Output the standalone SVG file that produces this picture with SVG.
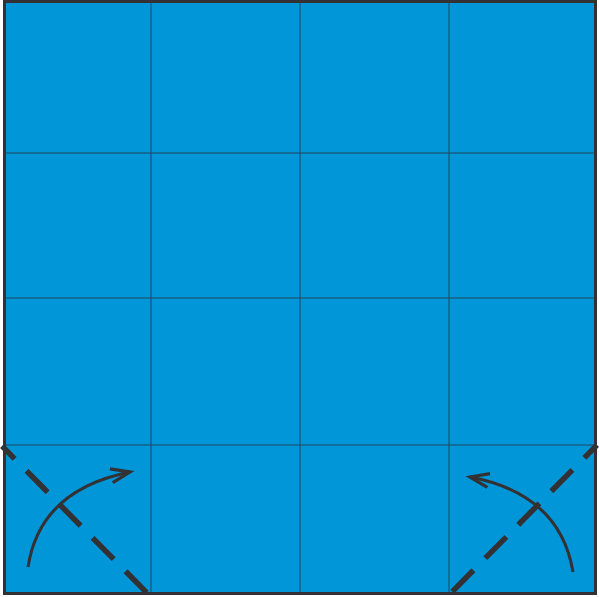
<svg xmlns="http://www.w3.org/2000/svg" width="599" height="597" viewBox="0 0 599 597">
<style>
.grid{stroke:#24455c;stroke-width:1;fill:none}
.fold{stroke:#333133;stroke-width:5.5;stroke-dasharray:30 17;fill:none}
.arrow{stroke:#333133;stroke-width:3;fill:none;marker-end:url(#head)}
</style>
<defs>
<marker id="head" markerUnits="userSpaceOnUse" viewBox="-22 -10 24 20" refX="0" refY="0" markerWidth="24" markerHeight="20" orient="auto" overflow="visible">
<path d="M-19,-7 L0,0 L-19,7" fill="none" stroke="#333133" stroke-width="3.2" stroke-linejoin="miter"/>
</marker>
</defs>
<rect x="0" y="0" width="599" height="597" fill="#ffffff"/>
<rect x="4.5" y="1.5" width="591" height="592" fill="#0096D8"/>
<g id="grid">
<line class="grid" x1="151" y1="3" x2="151" y2="592"/>
<line class="grid" x1="300" y1="3" x2="300" y2="592"/>
<line class="grid" x1="449" y1="3" x2="449" y2="592"/>
<line class="grid" x1="6" y1="153" x2="594" y2="153"/>
<line class="grid" x1="6" y1="298" x2="594" y2="298"/>
<line class="grid" x1="6" y1="445" x2="594" y2="445"/>
</g>
<rect x="4.5" y="1.5" width="591" height="592" fill="none" stroke="#333133" stroke-width="3"/>
<g id="folds">
<line class="fold" x1="2" y1="446" x2="149" y2="595" stroke-dashoffset="12"/>
<line class="fold" x1="597" y1="445" x2="449" y2="595" stroke-dashoffset="12"/>
</g>
<g id="arrows">
<path class="arrow" d="M28,567 Q40,490 130,472"/>
<path class="arrow" d="M573,572 Q560,494 470,477"/>
</g>
</svg>
